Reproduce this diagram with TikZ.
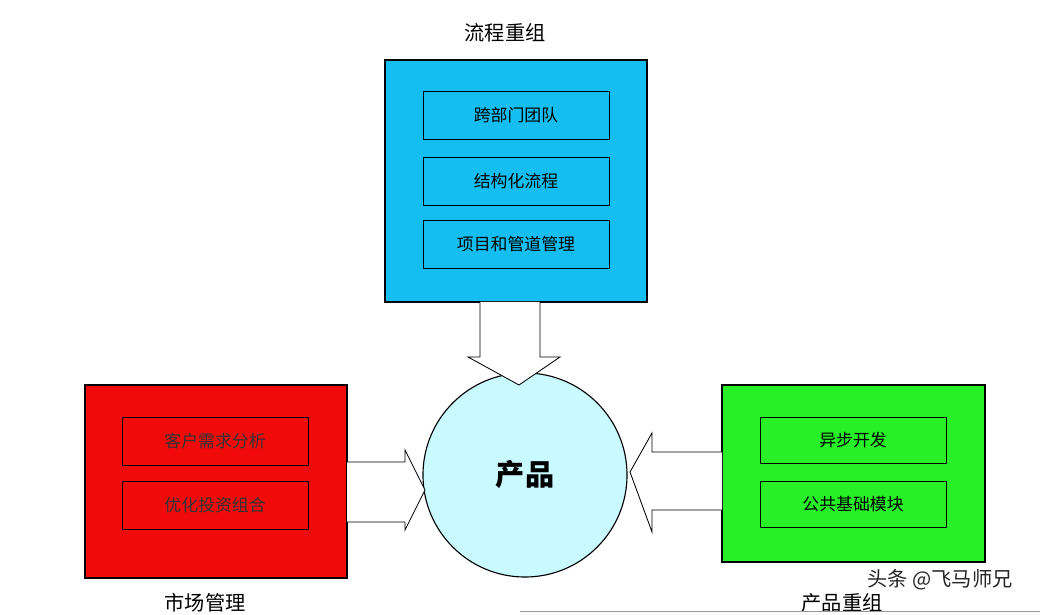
\documentclass[tikz,border=0pt]{standalone}
\usepackage{fontspec}
\setmainfont{Noto Sans CJK SC}
\usetikzlibrary{calc}
\definecolor{boxblue}{RGB}{20,190,240}
\definecolor{boxred}{RGB}{240,10,10}
\definecolor{boxgreen}{RGB}{40,240,40}
\definecolor{ballcyan}{RGB}{200,250,255}
\begin{document}
\begin{tikzpicture}[x=0.025cm, y=-0.025cm,
    outer/.style={draw, line width=0.8pt},
    inner/.style={draw, line width=0.6pt, minimum width=4.65cm, font=\large},
    hollow/.style={draw, fill=white, line width=0.6pt}]
    \useasboundingbox (0,0) rectangle (1057,615);
    % three groups
    \draw[outer, fill=boxblue] (385,60) rectangle (647,302);
    \draw[outer, fill=boxred] (85,385) rectangle (347,578);
    \draw[outer, fill=boxgreen] (722,385) rectangle (985,562);
    \node[font=\Large] (tBlue) at (505,33) {流程重组};
    \node[font=\Large] (tRed) at (205,603) {市场管理};
    \node[font=\Large] (tGreen) at (842,603) {产品重组};
    % inner items
    \node[inner, minimum height=1.2cm] (b1) at (516,115) {跨部门团队};
    \node[inner, minimum height=1.2cm] (b2) at (516,181) {结构化流程};
    \node[inner, minimum height=1.2cm] (b3) at (516,244) {项目和管道管理};
    \node[inner, minimum height=1.2cm, text=black!80] (r1) at (215,441) {客户需求分析};
    \node[inner, minimum height=1.2cm, text=black!80] (r2) at (215,505) {优化投资组合};
    \node[inner, minimum height=1.15cm] (g1) at (853,440) {异步开发};
    \node[inner, minimum height=1.15cm] (g2) at (853,504) {公共基础模块};
    % product
    \node[circle, draw, line width=0.8pt, fill=ballcyan, minimum size=5.1cm,
        font=\huge\bfseries] (prod) at (525,475) {产品};
    % hollow arrows
    \draw[hollow] (480,302) -- (480,357) -- (468,357) -- (519,385) -- (560,357)
        -- (540,357) -- (540,302);
    \draw[hollow] (347,462) -- (405,462) -- (405,450) -- (425,490) -- (405,530)
        -- (405,522) -- (347,522);
    \draw[hollow] (722,452) -- (652,452) -- (652,433) -- (630,472) -- (652,532)
        -- (652,510) -- (722,510);
    % watermark
    \node[font=\Large, text=black!85] (mark) at (940,580) {头条 @飞马师兄};
    \draw[black!40] (520,611) -- (1040,611);
\end{tikzpicture}
\end{document}
